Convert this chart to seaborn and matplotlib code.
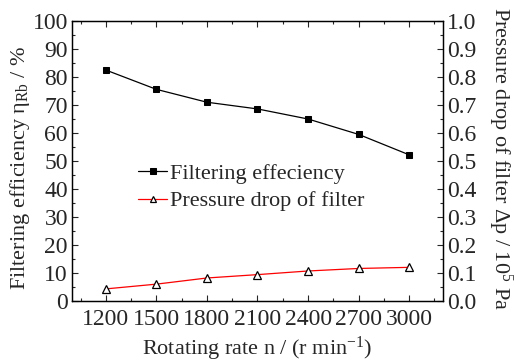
import matplotlib
matplotlib.use("Agg")
import matplotlib.pyplot as plt
import seaborn as sns
import pandas as pd
from matplotlib.ticker import MultipleLocator, FormatStrFormatter

# data
rate = [1200, 1500, 1800, 2100, 2400, 2700, 3000]
efficiency = [82.5, 75.6, 71.0, 68.6, 65.0, 59.5, 52.2]
pressure_drop = [0.043, 0.060, 0.082, 0.094, 0.107, 0.116, 0.120]

df = pd.DataFrame({"rate": rate, "eff": efficiency, "dp": pressure_drop})

sns.set_style("ticks")
plt.rcParams["font.family"] = ["Liberation Serif", "DejaVu Serif"]
plt.rcParams["mathtext.fontset"] = "custom"
plt.rcParams["mathtext.rm"] = "Liberation Serif"
plt.rcParams["mathtext.it"] = "Liberation Serif:italic"
tick_fs = 17
lab_fs = 16
plt.rcParams["font.size"] = lab_fs

fig = plt.figure(figsize=(5.15, 3.63), dpi=100)
ax = fig.add_axes([0.14, 0.171, 0.72, 0.771])
ax2 = ax.twinx()

sns.lineplot(data=df, x="rate", y="eff", ax=ax, color="black", lw=0.9,
             marker="s", markersize=5, markeredgecolor="black",
             label="Filtering effeciency", legend=False)
sns.lineplot(data=df, x="rate", y="dp", ax=ax2, color="red", lw=0.9,
             marker="^", markersize=5.5, markerfacecolor="white",
             markeredgecolor="black", markeredgewidth=0.9,
             label="Pressure drop of filter", legend=False)

ax.set_xlim(1000, 3200)
ax.set_ylim(0, 100)
ax2.set_ylim(0, 1.0)
ax.set_xticks(rate)
ax.xaxis.set_minor_locator(MultipleLocator(150))
ax.yaxis.set_major_locator(MultipleLocator(10))
ax.yaxis.set_minor_locator(MultipleLocator(5))
ax2.yaxis.set_major_locator(MultipleLocator(0.1))
ax2.yaxis.set_minor_locator(MultipleLocator(0.05))
ax2.yaxis.set_major_formatter(FormatStrFormatter("%.1f"))

ax.tick_params(axis="x", which="both", direction="in", top=True, labelsize=tick_fs, pad=6)
ax.tick_params(axis="y", which="both", direction="in", labelsize=tick_fs, pad=3)
ax.tick_params(which="major", length=4, width=0.8)
ax.tick_params(which="minor", length=2, width=0.8)
ax2.tick_params(which="both", direction="in", labelsize=tick_fs, pad=3)
ax2.tick_params(which="major", length=4, width=0.8)
ax2.tick_params(which="minor", length=2, width=0.8)

ax.set_xlabel("Rotating rate n / (r min$^{-1}$)", fontsize=lab_fs, va="center")
ax.xaxis.set_label_coords(0.5, -0.171)
ax.set_ylabel("Filtering efficiency η$_\\mathrm{Rb}$ / %", fontsize=lab_fs, va="center")
ax.yaxis.set_label_coords(-0.14, 0.475)
ax2.set_ylabel("Pressure drop of filter Δp / 10$^5$ Pa", fontsize=lab_fs,
               rotation=270, va="center")
ax2.yaxis.set_label_coords(1.155, 0.51)

for a in (ax, ax2):
    for s in a.spines.values():
        s.set_linewidth(0.9)
        s.set_color("black")

h1, l1 = ax.get_legend_handles_labels()
h2, l2 = ax2.get_legend_handles_labels()
ax.legend(h1 + h2, l1 + l2, loc="center", bbox_to_anchor=(0.484, 0.405),
          frameon=False, fontsize=lab_fs, handlelength=1.3, handletextpad=0.15,
          labelspacing=0.3, markerscale=0.75)

fig.savefig("out.png", dpi=100)
